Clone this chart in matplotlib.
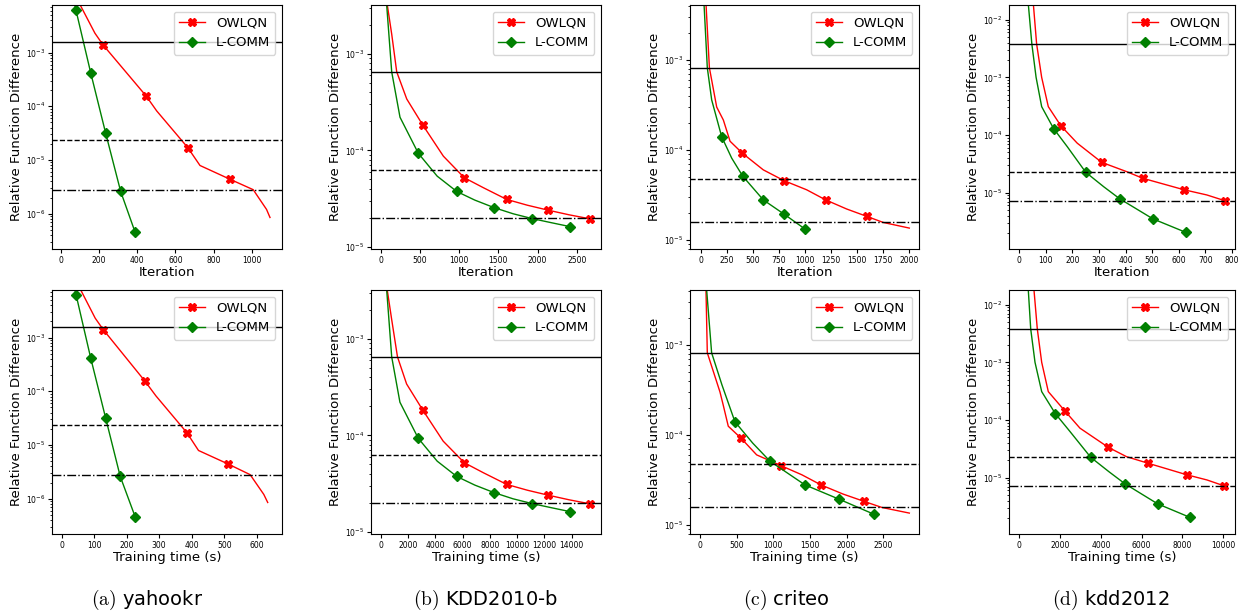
import numpy as np
import matplotlib.pyplot as plt
from matplotlib.lines import Line2D

# valores (y = diferenca relativa da funcao)

# --- yahookr ---
yah_owl_y = [1.5e-2, 7.8e-3, 2.3e-3, 1.4e-3, 1.55e-4, 8.2e-5, 1.7e-5, 7.9e-6, 4.4e-6, 2.8e-6, 1.2e-6, 8.5e-7]
yah_owl_iter = [70, 100, 178, 220, 447, 502, 665, 729, 885, 1008, 1078, 1096]
yah_owl_time = [40, 58, 103, 128, 256, 290, 385, 421, 513, 580, 622, 634]
yah_owl_mk = [3, 4, 6, 8]
yah_com_y = [1.2e-2, 6.3e-3, 4.2e-4, 3.2e-5, 2.6e-6, 4.6e-7]
yah_com_iter = [60, 78, 156, 234, 313, 388]
yah_com_time = [34, 44, 89, 135, 180, 226]
yah_com_mk = [1, 2, 3, 4, 5]
yah_hlines = [1.6e-3, 2.4e-5, 2.8e-6]

# --- KDD2010-b ---
kdd_owl_y = [1e-2, 3.2e-3, 1.6e-3, 6.5e-4, 3.4e-4, 1.83e-4, 8.7e-5, 5.2e-5, 4.1e-5, 3.1e-5, 2.7e-5, 2.4e-5, 2.15e-5, 1.95e-5]
kdd_owl_iter = [60, 84, 140, 204, 332, 536, 799, 1066, 1309, 1607, 1870, 2134, 2400, 2670]
kdd_owl_time = [340, 480, 800, 1230, 1900, 3079, 4580, 6129, 7520, 9238, 10750, 12265, 13800, 15345]
kdd_owl_mk = [5, 7, 9, 11, 13]
kdd_com_y = [1e-2, 3.2e-3, 6.5e-4, 2.2e-4, 9.3e-5, 5.4e-5, 3.75e-5, 3.05e-5, 2.55e-5, 2.2e-5, 1.96e-5, 1.78e-5, 1.62e-5]
kdd_com_iter = [50, 76, 140, 246, 480, 720, 969, 1200, 1445, 1690, 1934, 2175, 2415]
kdd_com_time = [290, 440, 806, 1410, 2757, 4140, 5572, 6900, 8306, 9700, 11114, 12500, 13879]
kdd_com_mk = [4, 6, 8, 10, 12]
kdd_hlines = [6.5e-4, 6.2e-5, 2.0e-5]

# --- criteo ---
cri_owl_y = [1e-2, 4.1e-3, 8.2e-4, 3.0e-4, 2.15e-4, 1.25e-4, 9.2e-5, 6.0e-5, 4.55e-5, 3.6e-5, 2.78e-5, 2.2e-5, 1.82e-5, 1.56e-5, 1.35e-5]
cri_owl_iter = [40, 51, 83, 153, 217, 281, 399, 600, 799, 1016, 1198, 1400, 1594, 1750, 2000]
cri_owl_time = [70, 82, 100, 273, 317, 386, 560, 773, 1105, 1390, 1650, 1950, 2240, 2480, 2855]
cri_owl_mk = [6, 8, 10, 12]
cri_com_y = [1e-2, 4.1e-3, 8.2e-4, 3.6e-4, 1.4e-4, 8.1e-5, 5.1e-5, 2.78e-5, 1.93e-5, 1.31e-5]
cri_com_iter = [25, 32, 63, 105, 201, 297, 403, 600, 799, 1003]
cri_com_time = [80, 91, 159, 300, 477, 720, 955, 1432, 1895, 2373]
cri_com_mk = [4, 6, 7, 8, 9]
cri_hlines = [8.2e-4, 4.7e-5, 1.56e-5]

# --- kdd2012 ---
k12_owl_y = [3e-2, 1.8e-2, 3.8e-3, 1e-3, 3.1e-4, 1.45e-4, 7.2e-5, 3.35e-5, 2.3e-5, 1.77e-5, 1.12e-5, 9.1e-6, 7.2e-6]
k12_owl_iter = [45, 53, 65, 84, 109, 156, 218, 310, 405, 465, 620, 706, 775]
k12_owl_time = [600, 720, 882, 1098, 1422, 2222, 2975, 4363, 5265, 6324, 8206, 9200, 10034]
k12_owl_mk = [5, 7, 9, 10, 12]
k12_com_y = [3e-2, 1.8e-2, 3.8e-3, 1e-3, 3.1e-4, 1.29e-4, 6.3e-5, 2.25e-5, 1.26e-5, 7.8e-6, 3.5e-6, 2.04e-6]
k12_com_iter = [28, 34, 47, 63, 84, 129, 180, 250, 318, 378, 503, 627]
k12_com_time = [380, 441, 559, 770, 1098, 1765, 2485, 3500, 4400, 5181, 6784, 8366]
k12_com_mk = [5, 7, 9, 10, 11]
k12_hlines = [3.8e-3, 2.3e-5, 7.2e-6]

captions = [r"$\mathrm{(a)}$ yahookr", r"$\mathrm{(b)}$ KDD2010-b",
            r"$\mathrm{(c)}$ criteo", r"$\mathrm{(d)}$ kdd2012"]

# tabela montada a partir das listas acima
datasets = [
    dict(owl=(yah_owl_iter, yah_owl_time, yah_owl_y, yah_owl_mk),
         com=(yah_com_iter, yah_com_time, yah_com_y, yah_com_mk), h=yah_hlines),
    dict(owl=(kdd_owl_iter, kdd_owl_time, kdd_owl_y, kdd_owl_mk),
         com=(kdd_com_iter, kdd_com_time, kdd_com_y, kdd_com_mk), h=kdd_hlines),
    dict(owl=(cri_owl_iter, cri_owl_time, cri_owl_y, cri_owl_mk),
         com=(cri_com_iter, cri_com_time, cri_com_y, cri_com_mk), h=cri_hlines),
    dict(owl=(k12_owl_iter, k12_owl_time, k12_owl_y, k12_owl_mk),
         com=(k12_com_iter, k12_com_time, k12_com_y, k12_com_mk), h=k12_hlines),
]

# layout em pixels
W, H = 1245, 615
cols = [(52, 282), (371, 601), (690, 919), (1009, 1235)]
rows = [(5, 249), (290, 534)]
cap_x = [147, 485, 786, 1111]
xlims = [[(-47, 1159), (-30, 678)], [(-124, 2810), (-711, 16150)],
         [(-103, 2093), (-136, 2987)], [(-39, 812), (-505, 10574)]]
xticks = [[np.arange(0, 1001, 200), np.arange(0, 601, 100)],
          [np.arange(0, 2501, 500), np.arange(0, 14001, 2000)],
          [np.arange(0, 2001, 250), np.arange(0, 2501, 500)],
          [np.arange(0, 801, 100), np.arange(0, 10001, 2000)]]
ylims = [(2.2e-7, 7.7e-3), (9.5e-6, 3.2e-3), (7.9e-6, 4.1e-3), (1.05e-6, 1.8e-2)]
xlabels = ["Iteration", "Training time (s)"]

fig = plt.figure(figsize=(W / 100, H / 100), dpi=100)

for c, d in enumerate(datasets):
    for r in range(2):
        l, rr = cols[c]
        t, b = rows[r]
        ax = fig.add_axes([l / W, 1 - b / H, (rr - l) / W, (b - t) / H])
        ax.set_yscale("log")
        ox, oy, omk = (d["owl"][r], d["owl"][2], d["owl"][3])
        cx, cy, cmk = (d["com"][r], d["com"][2], d["com"][3])
        ax.plot(ox, oy, color="red", lw=1, marker="X", ms=6, markevery=omk)
        ax.plot(cx, cy, color="green", lw=1, marker="D", ms=5.5, markevery=cmk)
        for hv, ls in zip(d["h"], ["-", "--", "-."]):
            ax.axhline(hv, color="black", lw=1, ls=ls)
        ax.set_xlim(xlims[c][r])
        ax.set_ylim(ylims[c])
        ax.set_xticks(xticks[c][r])
        ax.tick_params(labelsize=5.5, length=3, pad=2)
        ax.tick_params(which="minor", length=1.8)
        ax.set_xlabel(xlabels[r], fontsize=9.5, labelpad=1)
        ax.set_ylabel("Relative Function Difference", fontsize=9.5, labelpad=2)
        handles = [Line2D([], [], color="red", lw=1, marker="X", ms=6),
                   Line2D([], [], color="green", lw=1, marker="D", ms=5.5)]
        ax.legend(handles, ["OWLQN", "L-COMM"], loc="upper right", fontsize=9.5)
    fig.text(cap_x[c] / W, 1 - 600 / H, captions[c], fontsize=14,
             ha="center", va="center", math_fontfamily="cm")

fig.savefig("out.png", dpi=100)
